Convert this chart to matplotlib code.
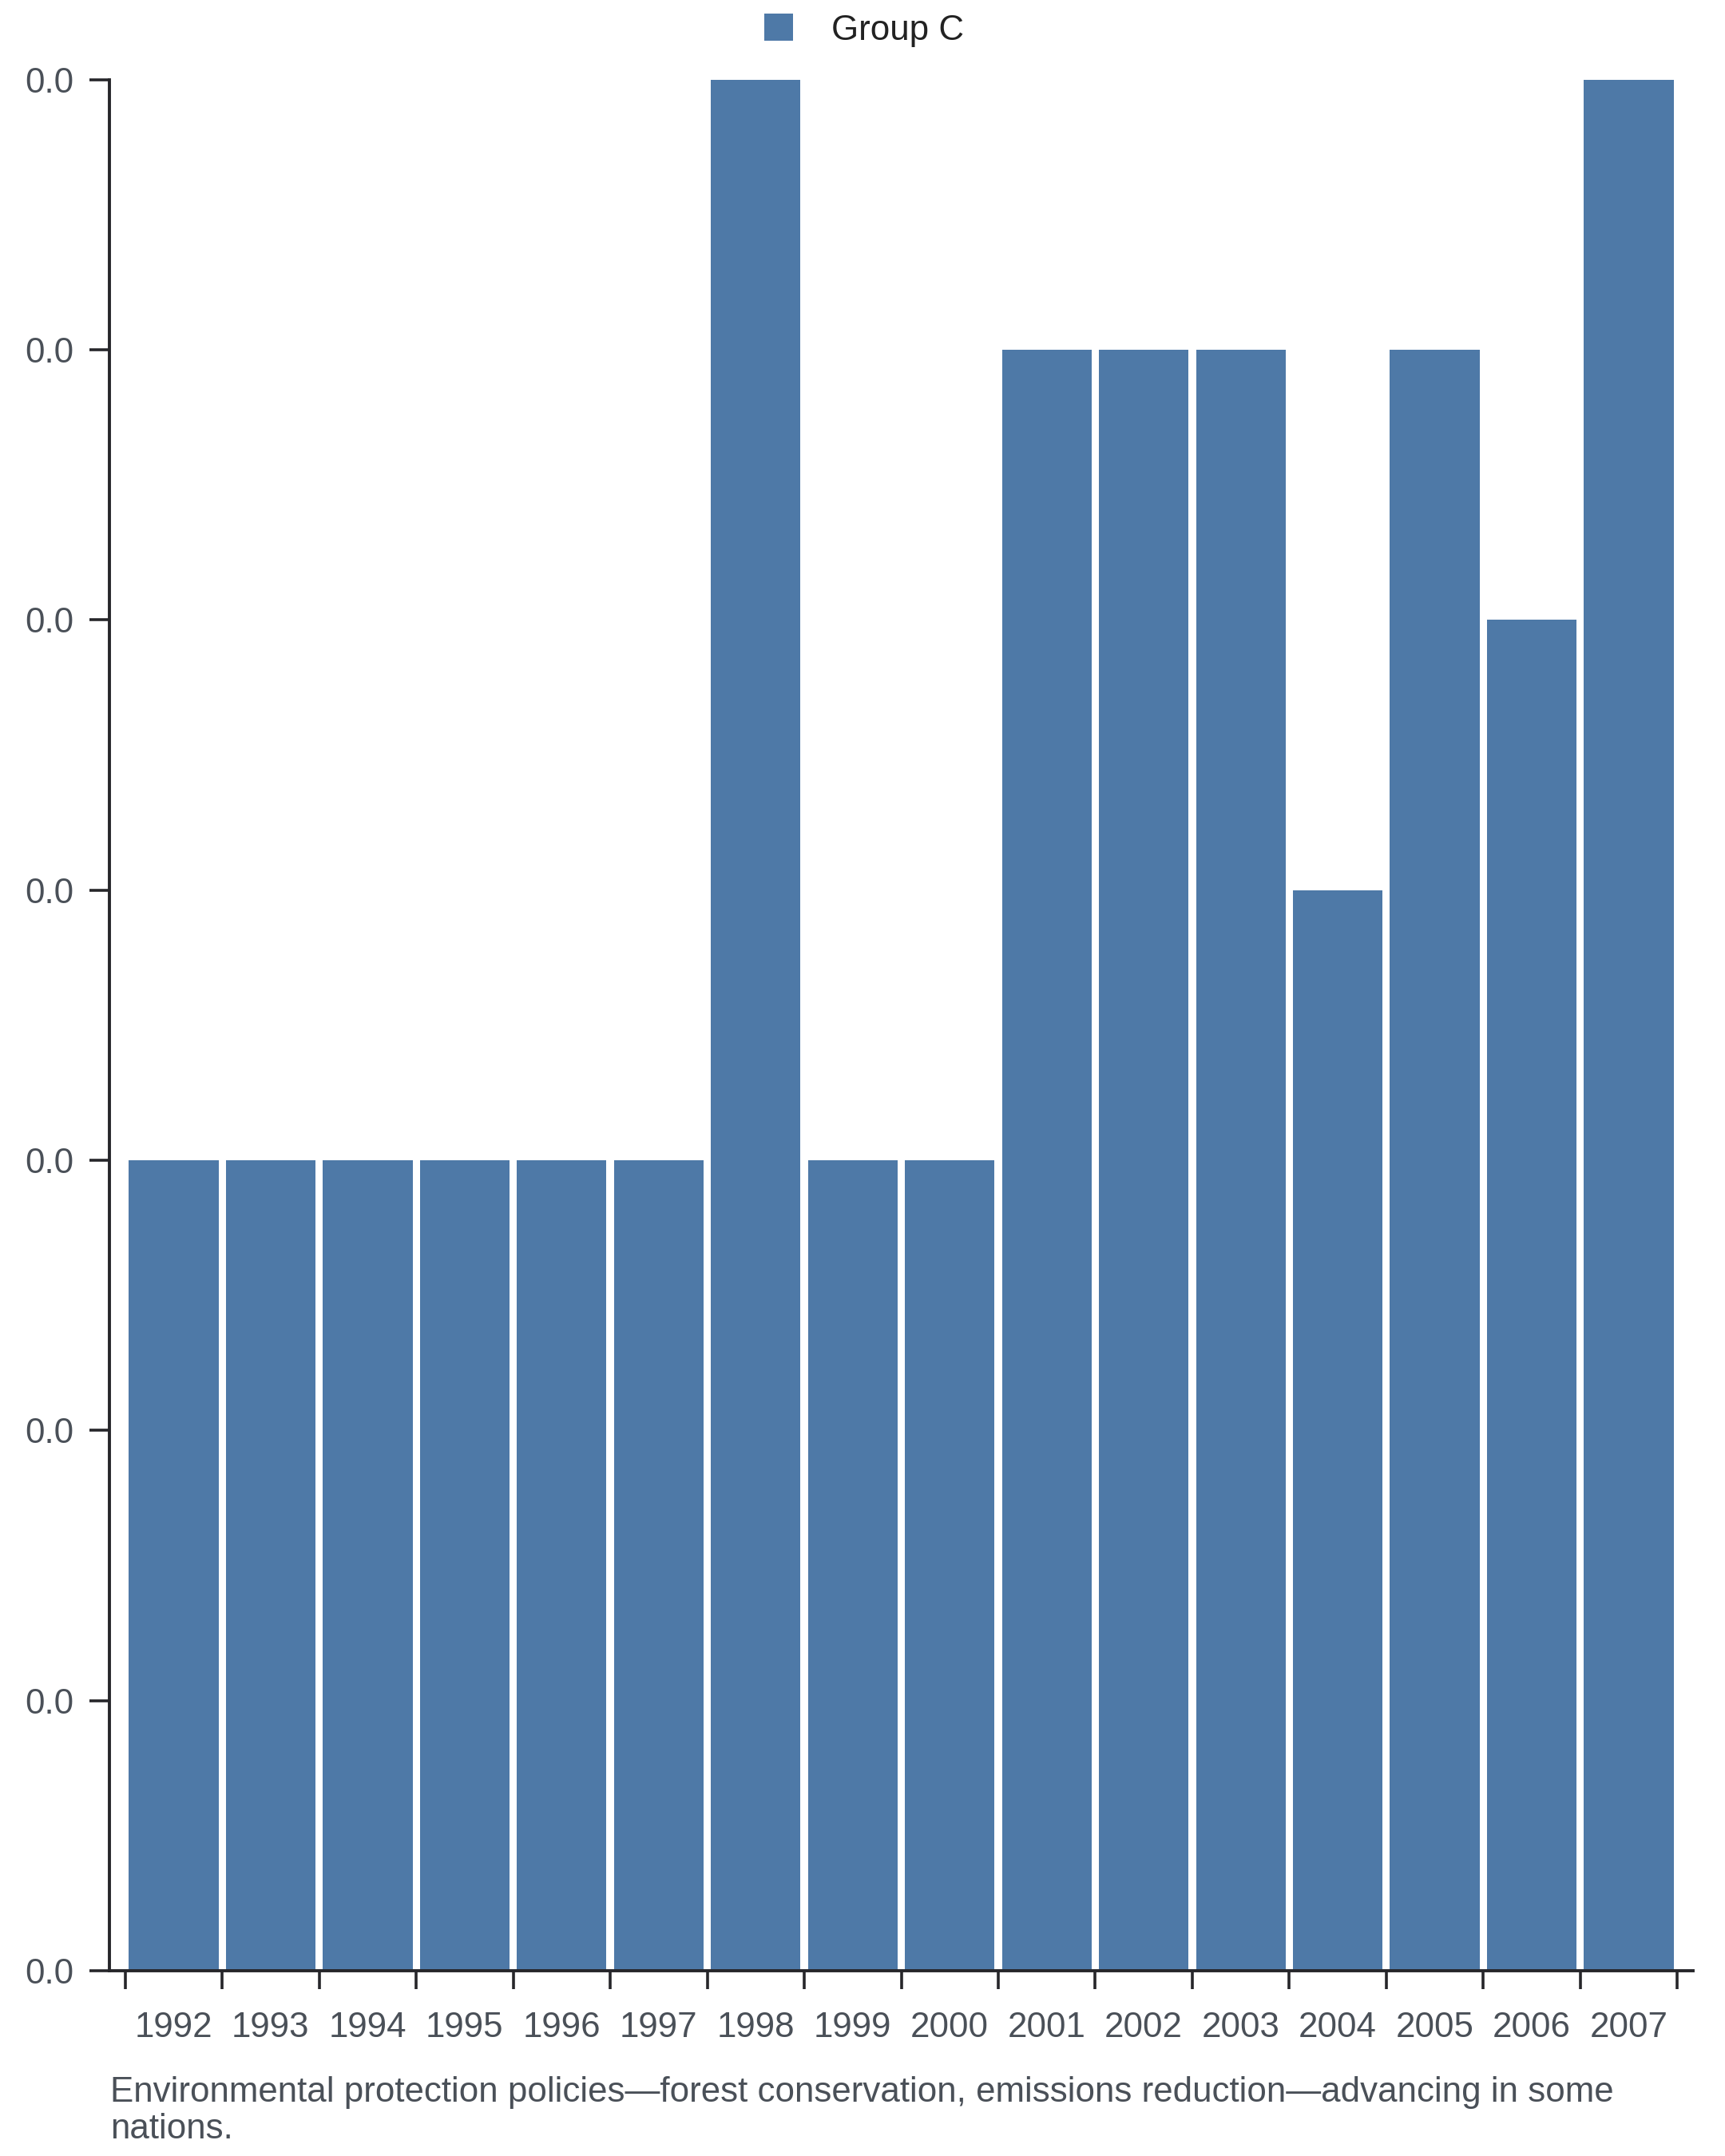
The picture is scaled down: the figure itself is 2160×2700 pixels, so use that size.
import matplotlib
matplotlib.use("Agg")
import matplotlib.pyplot as plt
import numpy as np
from matplotlib.ticker import FormatStrFormatter, FixedLocator

plt.rcParams['font.family'] = ['Liberation Sans', 'DejaVu Sans']

years = ['1992', '1993', '1994', '1995', '1996', '1997', '1998', '1999',
         '2000', '2001', '2002', '2003', '2004', '2005', '2006', '2007']
values = [0.003, 0.003, 0.003, 0.003, 0.003, 0.003, 0.007, 0.003,
          0.003, 0.006, 0.006, 0.006, 0.004, 0.006, 0.005, 0.007]
y_ticks = [0.0, 0.001, 0.002, 0.003, 0.004, 0.005, 0.006, 0.007]
series_name = 'Group C'
caption_lines = ['Environmental protection policies\u2014forest conservation, emissions reduction\u2014advancing in some',
                 'nations.']

BAR = '#4e79a7'
AXC = '#26262a'
TXT = '#4a5058'

W, H = 2160, 2700
FS = 15.8
fig = plt.figure(figsize=(W / 200, H / 200), dpi=200)
ax = fig.add_axes([137 / W, 1 - 2468 / H, (2120 - 137) / W, (2468 - 99.5) / H])

x = np.arange(len(years))
bars = ax.bar(x, values, width=0.925, color=BAR, label=series_name, zorder=2)

pad = 19.6 / 121.4
ax.set_xlim(-0.5 - pad, len(years) - 0.5 + pad)
ax.set_ylim(0, 0.007)

for s in ['top', 'right']:
    ax.spines[s].set_visible(False)
for s in ['left', 'bottom']:
    ax.spines[s].set_color(AXC)
    ax.spines[s].set_linewidth(1.4)

ax.yaxis.set_major_locator(FixedLocator(y_ticks))
ax.yaxis.set_major_formatter(FormatStrFormatter('%.1f'))
ax.tick_params(axis='y', length=9, width=1.3, color=AXC, pad=7,
               labelsize=FS, labelcolor=TXT)

edges = np.arange(len(years) + 1) - 0.5
ax.set_xticks(edges)
ax.set_xticklabels([])
ax.set_xticks(x, minor=True)
ax.set_xticklabels(years, minor=True)
ax.tick_params(axis='x', which='major', length=8.3, width=1.3, color=AXC)
ax.tick_params(axis='x', which='minor', length=0, pad=18.3, labelsize=FS, labelcolor=TXT)

leg = fig.legend(handles=[bars], labels=[series_name], loc='center',
                 bbox_to_anchor=(0.501, 1 - 38 / H), frameon=False, fontsize=FS,
                 handlelength=0.8, handleheight=0.8, handletextpad=1.1,
                 labelcolor='#222222')

fig.text(138 / W, 1 - 2632 / H, caption_lines[0], ha='left', va='baseline',
         fontsize=FS, color=TXT)
fig.text(138 / W, 1 - 2678 / H, caption_lines[1], ha='left', va='baseline',
         fontsize=FS, color=TXT)

fig.savefig('out.png', dpi=200, facecolor='white')
